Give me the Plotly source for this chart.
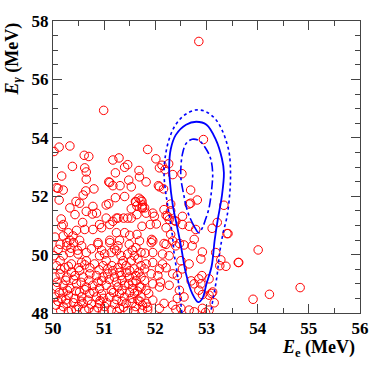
import plotly.graph_objs as go

# candidate events: positron energy and gamma energy (MeV)
e_e = [
    52.85, 50.99,
    50.12, 50.02, 50.33, 50.61, 50.70, 51.17, 51.29, 50.38, 50.62, 50.65, 51.22, 51.40, 51.46, 51.68, 50.17,
    52.94, 51.85, 52.01, 52.08, 52.13, 52.26, 52.19, 52.34, 52.52,
    50.07, 50.20, 50.12, 50.65, 51.11, 51.17, 51.31, 51.48, 51.53, 50.59, 50.64, 50.33, 50.45, 50.52, 50.78,
    51.04, 51.09, 51.22, 51.40, 51.61, 51.72, 51.64, 51.53, 50.77, 50.65, 50.43, 50.16, 50.20, 51.04, 51.17,
    51.27, 51.38, 51.46, 51.64, 51.74, 50.91, 50.95, 51.11, 50.78, 50.62, 50.58, 50.04, 50.20, 50.30, 50.39,
    50.46, 50.33, 50.27, 50.52, 50.88, 51.11, 51.24, 51.40, 51.50, 51.30, 51.64, 51.74, 51.69,
    51.69, 52.08, 52.16, 52.69, 52.82, 52.69, 52.66, 51.75, 51.79, 51.82, 51.95, 52.17, 52.30, 52.30, 52.21,
    52.27, 52.37, 52.53, 52.40, 53.34, 53.21, 53.11, 53.42, 52.53, 52.66, 52.79, 51.90, 52.02, 51.95, 51.93,
    52.17, 52.34, 52.47, 52.76, 52.30,
    52.85, 54.01, 53.63, 53.38, 53.26, 53.28, 53.18, 52.92, 52.89, 52.91, 54.83, 54.23, 53.91, 53.12, 53.10,
    53.15, 52.98, 52.92, 52.76, 53.05, 52.76, 52.66, 52.72, 52.70, 52.85, 52.92,
    51.92, 52.21, 52.40, 52.56, 51.95, 52.14, 52.27, 52.50, 52.53, 52.34, 52.43, 51.92, 52.05, 51.72, 53.05,
    52.89, 52.08, 52.27, 52.47, 52.56, 52.43, 53.05, 52.66, 52.34, 52.17, 51.95, 51.82, 51.72, 52.08, 51.85,
    52.50, 52.40, 51.72, 51.82, 51.87, 51.75, 51.79, 51.79, 51.82, 51.95, 52.14, 52.08, 52.21, 51.95, 52.10,
    50.14, 50.27, 50.40, 50.56, 50.88, 51.11, 51.27, 51.49, 51.62, 51.72, 50.02, 50.20, 50.33, 50.49, 50.65,
    50.91, 51.01, 51.14, 51.33, 51.46, 51.59, 50.07, 50.23, 50.36, 50.56, 50.72, 50.81, 50.98, 51.07, 51.27,
    51.43, 51.59, 51.72, 50.04, 50.14, 50.27, 50.43, 50.59, 50.72, 50.85, 50.98, 51.07, 51.20, 51.33, 51.49,
    51.62, 50.07, 50.20, 50.33, 50.46, 50.65, 50.78, 50.91, 51.04, 51.14, 51.27, 51.40, 51.56, 51.69, 50.04,
    50.17, 50.30, 50.43, 50.56, 50.68, 50.85, 50.98, 51.11, 51.24, 51.40, 51.53, 51.66, 50.06, 50.20, 50.36,
    50.49, 50.62, 50.81, 51.01, 51.14, 51.30, 51.46, 51.62, 51.75,
    51.24, 51.37, 51.53, 51.66, 51.17, 51.30, 51.43, 51.56, 51.24, 50.88, 50.52, 50.36, 50.65, 51.04, 50.14,
    50.52, 50.20, 50.72, 51.30, 51.59, 51.43, 50.91, 50.59, 50.27,
    52.06, 51.82, 51.09, 50.80, 51.68, 51.74, 51.75, 51.62, 50.85, 51.24, 51.53, 51.98, 52.24, 52.21, 50.10,
    50.17, 53.62, 53.40,
    50.10, 50.35, 50.48, 50.75, 50.95, 51.20, 51.55, 51.80, 50.15, 50.30, 50.50, 50.62, 50.90, 51.15, 51.35,
    51.50, 51.68, 50.08, 50.25, 50.40, 50.55, 50.70, 50.95, 51.10, 51.35, 51.48, 51.62, 50.12, 50.28, 50.45,
    50.62, 50.80, 50.95, 51.18, 51.35, 51.50, 51.65, 50.10, 50.25, 50.40, 50.55, 50.75, 50.92, 51.05, 51.20,
    51.35, 51.55, 51.70, 50.15, 50.30, 50.45, 50.70, 50.88, 51.00, 51.25, 51.38, 51.58, 51.85,
]
e_gamma = [
    57.30, 54.94,
    53.68, 53.53, 53.72, 53.40, 53.36, 53.24, 53.31, 53.02, 52.97, 52.83, 52.80, 52.99, 53.08, 52.88, 52.69,
    53.94, 53.60, 53.28, 52.97, 53.06, 53.11, 52.91, 52.74, 52.77,
    52.29, 52.21, 51.87, 52.58, 52.47, 52.36, 52.36, 52.55, 52.32, 52.04, 52.18, 51.60, 51.82, 51.76, 51.65,
    51.70, 51.74, 51.95, 51.99, 51.82, 51.87, 51.67, 51.57, 51.39, 51.48, 51.37, 51.22, 51.03, 51.25, 51.14,
    51.25, 51.25, 51.25, 51.37, 51.60, 51.03, 50.92, 51.03, 50.86, 50.86, 51.10, 50.60, 50.64, 50.75, 50.64,
    50.83, 50.49, 50.41, 50.49, 50.41, 50.49, 50.75, 50.75, 50.66, 50.49, 50.69, 50.97, 50.47,
    52.66, 52.32, 52.25, 52.21, 51.87, 51.76, 51.73, 51.70, 51.60, 51.42, 51.42, 51.54, 51.73, 51.50, 51.34,
    51.20, 51.17, 51.31, 51.14, 51.69, 51.10, 50.90, 50.72, 51.03, 50.97, 50.86, 51.03, 51.05, 50.47, 50.52,
    50.38, 50.47, 50.38, 50.52, 50.69,
    49.17, 50.16, 49.73, 49.60, 49.62, 49.82, 50.07, 50.09, 49.85, 49.28, 48.87, 48.64, 48.47, 48.72, 48.67,
    48.35, 48.02, 48.16, 48.04, 48.61, 49.00, 49.68, 50.30, 49.10, 48.78, 48.63,
    50.41, 50.35, 50.30, 50.33, 50.07, 50.02, 49.96, 49.79, 49.51, 49.34, 49.28, 49.34, 49.28, 49.23, 49.17,
    49.00, 48.89, 48.95, 48.78, 48.55, 48.50, 48.10, 48.10, 48.27, 48.33, 48.44, 48.33, 48.55, 48.16, 48.10,
    48.16, 48.12, 48.89, 48.78, 48.67, 48.27, 49.11, 49.51, 49.68, 49.73, 49.68, 49.51, 49.55, 49.00, 49.06,
    50.35, 50.30, 50.41, 50.30, 50.35, 50.41, 50.30, 50.35, 50.24, 50.07, 49.96, 49.96, 50.07, 50.02, 50.07,
    49.96, 50.02, 50.07, 49.96, 50.02, 49.96, 49.62, 49.55, 49.68, 49.73, 49.55, 49.68, 49.62, 49.51, 49.55,
    49.62, 49.51, 49.62, 49.23, 49.34, 49.23, 49.28, 49.23, 49.34, 49.28, 49.23, 49.34, 49.23, 49.28, 49.23,
    49.28, 48.89, 48.95, 48.84, 49.00, 48.89, 48.95, 48.84, 48.95, 48.78, 48.89, 48.95, 48.84, 48.89, 48.55,
    48.50, 48.61, 48.50, 48.55, 48.44, 48.55, 48.50, 48.55, 48.46, 48.55, 48.50, 48.44, 48.27, 48.22, 48.10,
    48.22, 48.10, 48.08, 48.22, 48.10, 48.16, 48.08, 48.22, 48.10,
    50.13, 49.79, 49.79, 49.85, 49.45, 49.39, 49.39, 49.06, 49.06, 49.06, 49.45, 49.39, 49.79, 49.79, 49.79,
    48.72, 48.72, 48.67, 48.67, 48.67, 48.33, 48.33, 48.33, 48.33,
    52.36, 52.49, 52.49, 52.25, 51.93, 51.82, 51.62, 51.80, 51.42, 51.25, 51.25, 51.31, 51.31, 50.92, 52.27,
    50.97, 49.73, 50.72,
    50.18, 50.22, 50.15, 50.20, 50.15, 50.20, 50.15, 50.05, 49.50, 49.60, 49.55, 49.65, 49.48, 49.62, 49.70,
    49.45, 49.40, 49.05, 49.12, 49.15, 49.05, 49.12, 49.10, 49.15, 49.12, 49.00, 49.10, 48.70, 48.78, 48.75,
    48.80, 48.72, 48.65, 48.70, 48.78, 48.70, 48.75, 48.40, 48.45, 48.35, 48.40, 48.30, 48.42, 48.35, 48.30,
    48.40, 48.35, 48.40, 48.08, 48.05, 48.12, 48.15, 48.18, 48.05, 48.05, 48.20, 48.05, 48.20,
]

# likelihood contour paths
outer_x = [52.52, 52.48, 52.43, 52.37, 52.33, 52.24, 52.19, 52.17, 52.19, 52.26, 52.38, 52.55, 52.78,
           52.98, 53.17, 53.31, 53.40, 53.45, 53.47, 53.45, 53.40, 53.32, 53.26, 53.20, 53.13, 53.08]
outer_y = [48.0, 48.6, 49.34, 50.0, 50.7, 51.7, 52.3, 52.8, 53.3, 53.9, 54.4, 54.75, 54.95,
           54.9, 54.65, 54.24, 53.8, 53.4, 52.7, 52.0, 51.3, 50.7, 50.1, 49.2, 48.5, 48.0]
mid_x = [52.84, 52.72, 52.60, 52.50, 52.43, 52.34, 52.28, 52.27, 52.30, 52.40, 52.60, 52.80, 53.00,
         53.18, 53.30, 53.34, 53.30, 53.22, 53.16, 53.10, 53.00, 52.92, 52.84]
mid_y = [48.37, 48.67, 49.34, 50.30, 50.92, 51.70, 52.60, 53.00, 53.60, 54.10, 54.45, 54.55, 54.45,
         53.95, 53.30, 52.80, 52.00, 51.20, 50.50, 49.60, 49.00, 48.50, 48.37]
inner_x = [52.85, 52.76, 52.63, 52.55, 52.50, 52.50, 52.53, 52.60, 52.72, 52.86, 52.98, 53.08, 53.12,
           53.11, 53.05, 52.98, 52.92, 52.85]
inner_y = [50.75, 50.97, 51.48, 52.10, 52.61, 53.00, 53.45, 53.80, 53.95, 53.90, 53.65, 53.29, 52.80,
           52.40, 51.60, 51.20, 50.92, 50.75]

serif = 'Liberation Serif'
blue = '#0000ff'

events = go.Scatter(x=e_e, y=e_gamma, mode='markers',
                    marker=dict(symbol='circle-open', size=8.5, color='#ff0000',
                                line=dict(width=1, color='#ff0000')))
outer = go.Scatter(x=outer_x, y=outer_y, mode='lines',
                   line=dict(color=blue, width=1.6, dash='dot', shape='spline'))
mid = go.Scatter(x=mid_x, y=mid_y, mode='lines',
                 line=dict(color=blue, width=1.8, shape='spline'))
inner = go.Scatter(x=inner_x, y=inner_y, mode='lines',
                   line=dict(color=blue, width=1.6, dash='dashdot', shape='spline'))

axis_style = dict(showgrid=False, zeroline=False, showline=True, linecolor='#444444', linewidth=1,
                  mirror='ticks', ticks='inside', ticklen=9, tickcolor='#444444',
                  tickfont=dict(family=serif, size=17, color='black', weight='bold'))

layout = go.Layout(
    width=381, height=366, showlegend=False,
    margin=dict(l=53, r=19, t=17, b=53),
    plot_bgcolor='white', paper_bgcolor='white',
    xaxis=dict(range=[50, 56], dtick=1, tick0=50,
               minor=dict(dtick=0.5, ticks='inside', ticklen=5, tickcolor='#444444'),
               **axis_style),
    yaxis=dict(range=[48, 58], dtick=2, tick0=48,
               minor=dict(dtick=0.5, ticks='inside', ticklen=5, tickcolor='#444444'),
               **axis_style),
    annotations=[
        dict(text='<i>E</i><sub><i>\u03b3</i></sub> (MeV)', xref='paper', yref='paper',
             x=-0.13, y=1.0, xanchor='center', yanchor='top', textangle=-90, showarrow=False,
             font=dict(family=serif, size=18, color='black', weight='bold')),
        dict(text='<i>E</i><sub>e</sub> (MeV)', xref='paper', yref='paper',
             x=0.99, y=-0.12, xanchor='right', yanchor='middle', showarrow=False,
             font=dict(family=serif, size=18, color='black', weight='bold')),
    ],
)

fig = go.Figure(data=[events, outer, mid, inner], layout=layout)
# drop the browser's default page margin so the 381x366 figure fills the window
fig.write_html('out.html', config={'displayModeBar': False},
               post_script="document.body.style.margin='0';")
